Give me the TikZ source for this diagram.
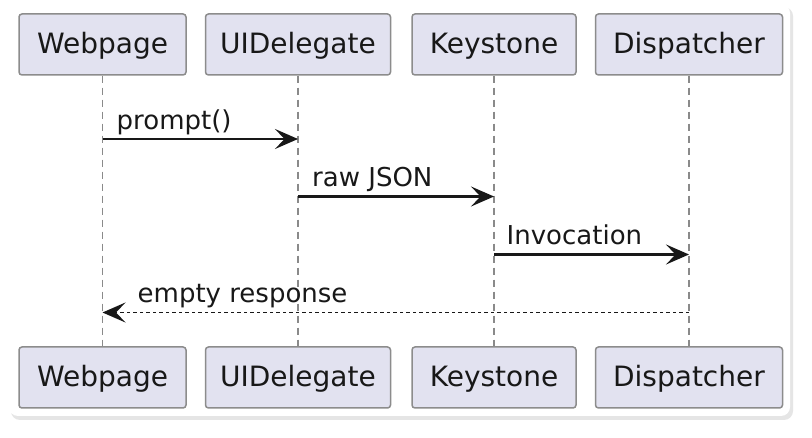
\documentclass[tikz,border=0pt]{standalone}
\usepackage{fontspec}
\setmainfont{DejaVu Sans}
\usetikzlibrary{arrows.meta}
\definecolor{boxfill}{HTML}{E2E2F0}
\definecolor{boxline}{HTML}{8C8C8C}
\definecolor{inkc}{HTML}{181818}
\definecolor{lifec}{HTML}{8A8A8A}
\tikzset{
  participant/.style={draw=boxline, fill=boxfill, line width=1.5pt, rounded corners=3pt,
    minimum height=61pt, inner xsep=0pt, inner ysep=0pt, text=inkc,
    text height=23pt, text depth=5pt,
    font=\fontsize{28}{32}\selectfont},
  lifeline/.style={draw=lifec, line width=1.5pt, dash pattern=on 7pt off 5pt},
  msg/.style={draw=inkc, line width=2.2pt, -{Stealth[length=23pt,width=20pt,inset=9.5pt]}},
  reply/.style={draw=inkc, line width=1.7pt, dash pattern=on 3.5pt off 3pt,
    -{Stealth[length=23pt,width=20pt,inset=9.5pt]}},
  msglabel/.style={anchor=base west, inner sep=0pt, text=inkc, font=\fontsize{26}{30}\selectfont}
}
\begin{document}
\begin{tikzpicture}[x=1pt,y=-1pt]
\useasboundingbox (0,0) rectangle (812,438);
\fill[white] (0,0) rectangle (812,438);
% frame with shadow
\fill[black!10, rounded corners=9pt] (11,7) rectangle (793,420);
\fill[white, rounded corners=9pt] (9,4) rectangle (790,416);

% participants
\node[participant, minimum width=167pt] (W1) at (102.5,44.5) {Webpage};
\node[participant, minimum width=185pt] (U1) at (298,44.5) {UIDelegate};
\node[participant, minimum width=164pt] (K1) at (494,44.5) {Keystone};
\node[participant, minimum width=187pt] (D1) at (689,44.5) {Dispatcher};
\node[participant, minimum width=167pt] (W2) at (102.5,377.5) {Webpage};
\node[participant, minimum width=185pt] (U2) at (298,377.5) {UIDelegate};
\node[participant, minimum width=164pt] (K2) at (494,377.5) {Keystone};
\node[participant, minimum width=187pt] (D2) at (689,377.5) {Dispatcher};

% lifelines
\draw[lifeline] (W1.south) -- (W2.north);
\draw[lifeline] (U1.south) -- (U2.north);
\draw[lifeline] (K1.south) -- (K2.north);
\draw[lifeline] (D1.south) -- (D2.north);

% message anchor points on lifelines
\coordinate (m1a) at (102.5,139);
\coordinate (m1b) at (298,139);
\coordinate (m2a) at (298,196.5);
\coordinate (m2b) at (494,196.5);
\coordinate (m3a) at (494,254.5);
\coordinate (m3b) at (689,254.5);
\coordinate (m4a) at (689,312.5);
\coordinate (m4b) at (102.5,312.5);

\draw[msg] (m1a) -- (m1b);
\draw[msg] (m2a) -- (m2b);
\draw[msg] (m3a) -- (m3b);
\draw[reply] (m4a) -- (m4b);

\node[msglabel] (l1) at (116.5,129.5) {prompt()};
\node[msglabel] (l2) at (312,187) {raw JSON};
\node[msglabel] (l3) at (506.5,245) {Invocation};
\node[msglabel] (l4) at (137.5,303) {empty response};
\end{tikzpicture}
\end{document}
